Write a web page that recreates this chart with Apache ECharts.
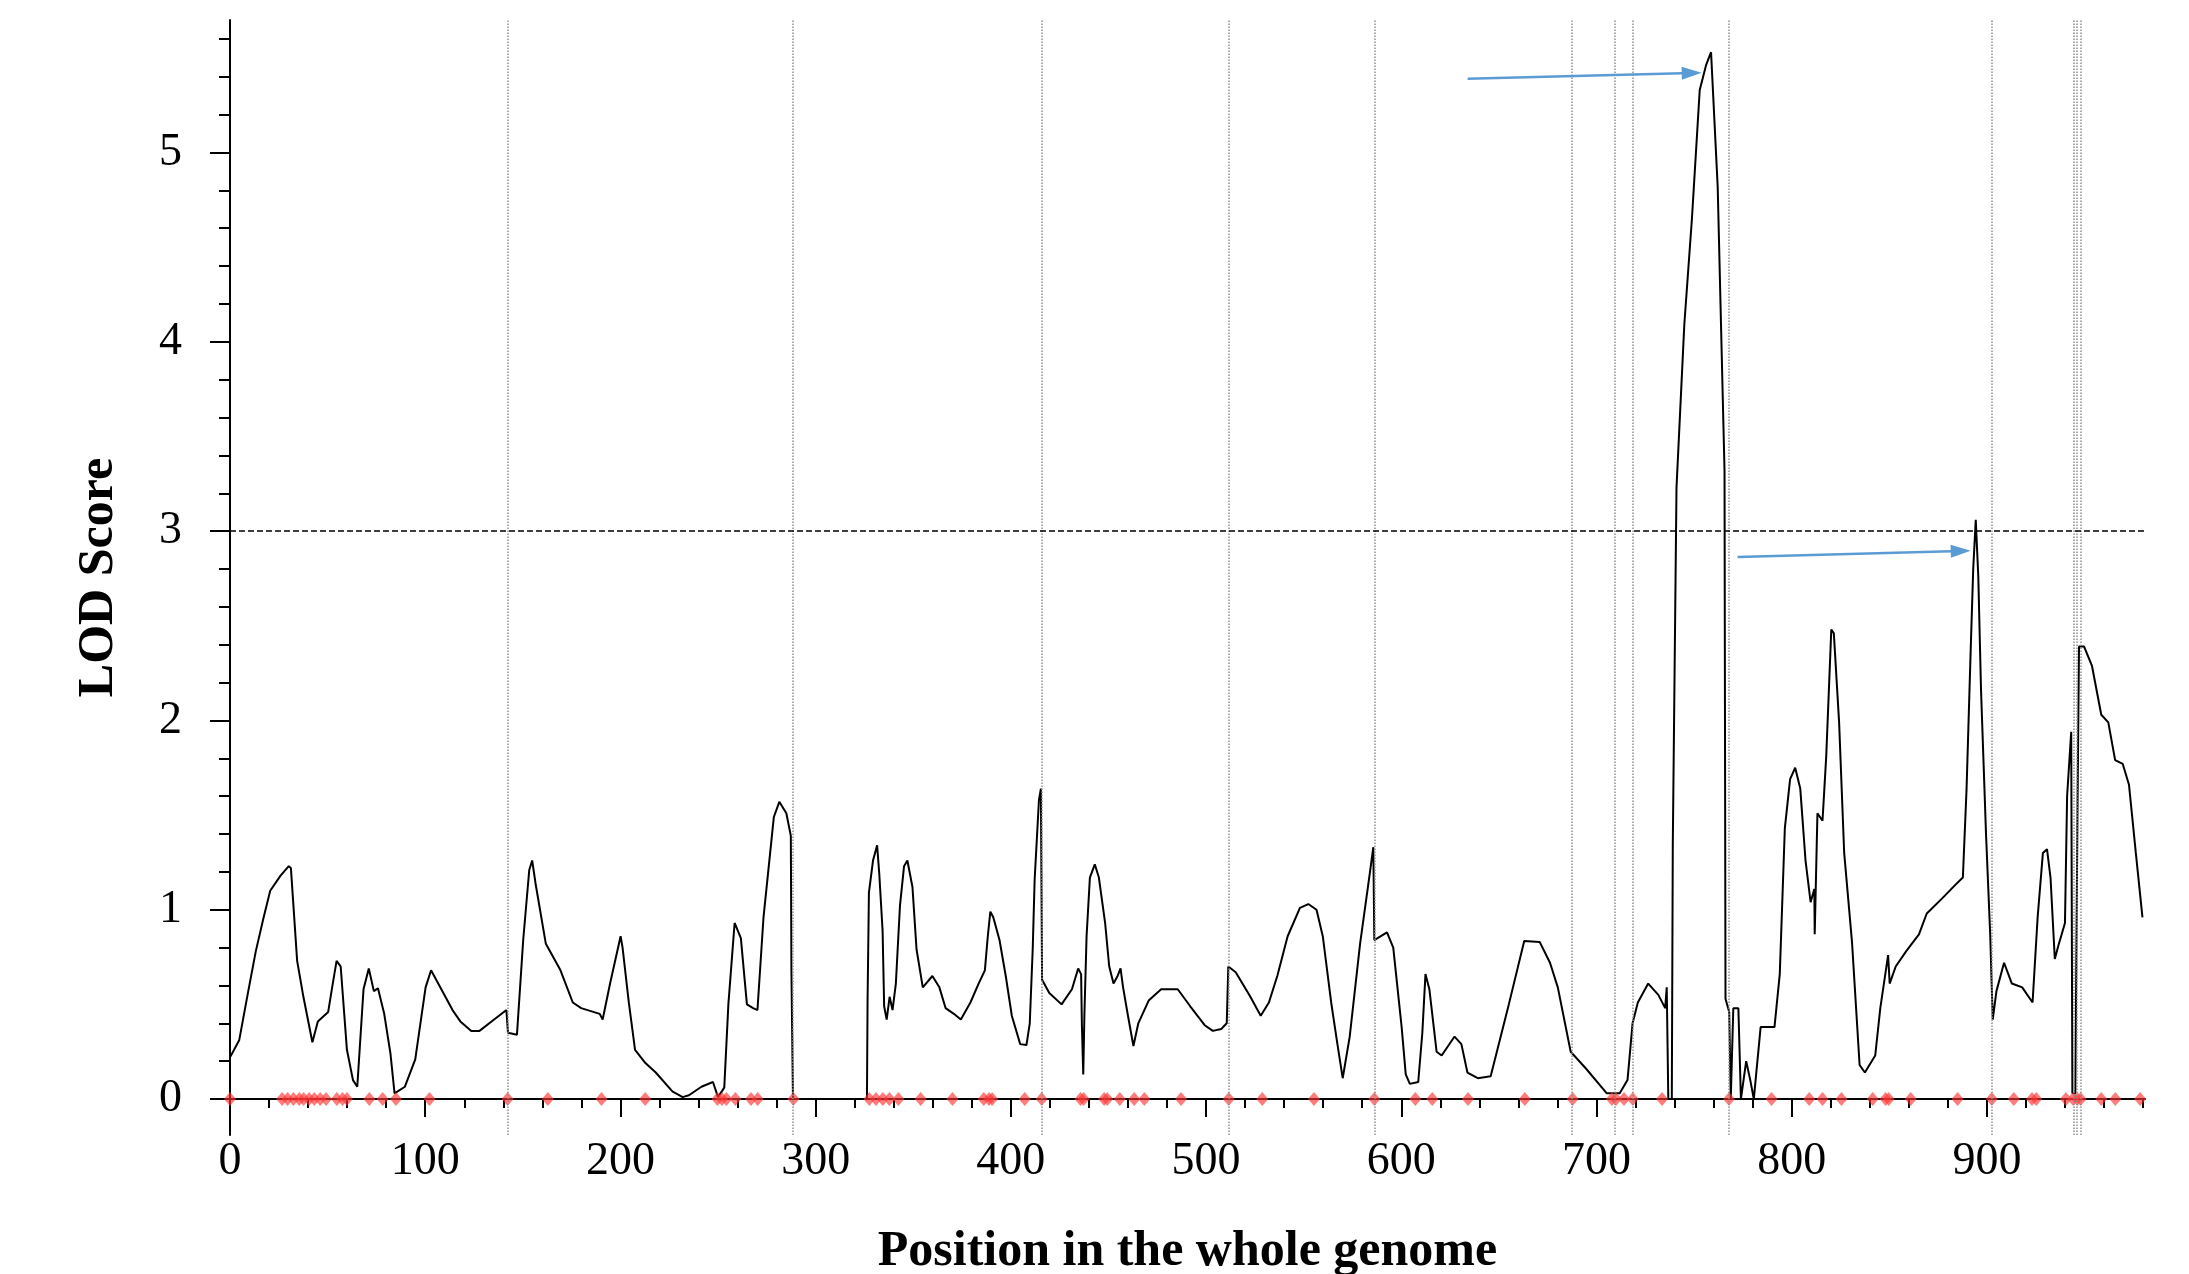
<!DOCTYPE html>
<html>
<head>
<meta charset="utf-8">
<title>LOD Score</title>
<script src="https://cdn.jsdelivr.net/npm/echarts@6.0.0/dist/echarts.min.js"></script>
<style>
  html, body { margin: 0; padding: 0; background: #fff; }
  #main { width: 2189px; height: 1274px; }
</style>
</head>
<body>
<div id="main"></div>
<script>
// LOD profile along the genome (position, LOD)
var lodPos = [0, 4.7, 9, 13.2, 17, 20.6, 25.9, 30.1, 31.2, 34.4, 37.6, 42.2, 45, 50.3, 52.5, 54.6, 56.7, 59.9, 63, 65.2,
  68.4, 71.1, 73.7, 75.8, 79, 82.2, 84.3, 89.6, 94.9, 100.2, 103, 107.7, 114, 118, 123.6, 127.8, 135.3, 141.6, 142.4, 147,
  150.2, 153.3, 154.8, 156.5, 161.8, 169.3, 175.6, 179.9, 189.4, 190.9, 194.7, 200.1, 201.1, 204.3, 207.5, 212.8, 218.1, 226.6, 231.9, 235.1,
  241.5, 247.4, 250, 253.2, 255.3, 258.5, 261.7, 264.8, 268, 270.2, 273.3, 278.6, 281.4, 285, 287.3, 287.6, 288.4, 326.3, 326.6, 327.3,
  329.4, 331.5, 332.6, 334.3, 335.1, 336.4, 337.9, 339.4, 341.1, 343.2, 345.3, 347, 349.6, 351.7, 354.9, 359.8, 363.4, 366.6, 370.8, 374.4,
  379.3, 383.5, 386.7, 388.2, 389.5, 391, 394.2, 397.4, 400.5, 404.8, 408, 409.7, 411.2, 412.2, 414.4, 415.4, 416, 419.7, 426, 431.3,
  434.5, 436, 436.4, 437.1, 437.7, 438.8, 440.5, 443, 445.1, 448.3, 450.4, 452.6, 454.7, 456.2, 457.5, 460, 462.8, 465.3, 470.6, 477,
  485.5, 491.9, 499.3, 503.5, 507.8, 510.6, 511.4, 515.2, 522.7, 528, 532.2, 536.5, 541.8, 548.1, 552.4, 556.6, 559.8, 564.1, 567.3, 570,
  573.6, 578.9, 583.2, 585.7, 586.2, 592.7, 595.9, 600.2, 602.3, 604.4, 608.7, 610.8, 612.4, 614.4, 618.1, 620.7, 627.3, 630.8, 633.9, 639.2,
  645.8, 655.1, 663, 670.9, 676.2, 680.2, 686.8, 694.7, 705.3, 711.9, 715.9, 718.5, 721.2, 726.5, 731.7, 735.2, 736, 736.8, 738.6, 739.1,
  741, 745, 748.9, 752.9, 756.1, 758.7, 762.1, 765.6, 766.1, 768, 768.8, 770.1, 772.7, 774, 776.7, 778.8, 780.6, 784.1, 791.2, 793.9,
  796.5, 799.2, 801.8, 804.4, 807.1, 809.7, 811.6, 811.8, 813.2, 815.8, 817.7, 820.3, 821.6, 824.3, 826.9, 830.9, 834.8, 837.5, 842.8, 845.4,
  849.4, 850.2, 853.3, 858.6, 865.2, 869.2, 877.1, 883.7, 887.7, 889.6, 891.7, 893, 894.3, 895.6, 897, 899.6, 901.7, 903, 904.9, 908.8,
  912.8, 918.1, 923.4, 926, 928.7, 930.8, 932.6, 934.8, 936.6, 940, 941.1, 943.2, 943.8, 945.3, 946.4, 947.2, 949.8, 953.8, 958.6, 962.2,
  965.7, 969.6, 972.8, 976.3, 979.7];
var lodVal = [0.22, 0.31, 0.55, 0.78, 0.95, 1.10, 1.18, 1.23, 1.22, 0.73, 0.54, 0.30, 0.41, 0.46, 0.6, 0.73, 0.70, 0.26, 0.1, 0.065,
  0.58, 0.69, 0.57, 0.585, 0.45, 0.24, 0.03, 0.065, 0.21, 0.59, 0.68, 0.59, 0.47, 0.41, 0.36, 0.36, 0.42, 0.47, 0.35, 0.34,
  0.84, 1.21, 1.26, 1.14, 0.82, 0.68, 0.51, 0.48, 0.45, 0.42, 0.61, 0.86, 0.80, 0.51, 0.26, 0.19, 0.14, 0.04, 0.01, 0.02,
  0.065, 0.09, 0.01, 0.06, 0.50, 0.93, 0.85, 0.50, 0.48, 0.47, 0.96, 1.49, 1.57, 1.51, 1.39, 0.68, 0, 0, 0.51, 1.09,
  1.26, 1.34, 1.19, 0.89, 0.49, 0.42, 0.54, 0.47, 0.61, 1.02, 1.23, 1.26, 1.12, 0.79, 0.59, 0.65, 0.59, 0.48, 0.45, 0.42,
  0.51, 0.61, 0.68, 0.86, 0.99, 0.96, 0.84, 0.65, 0.44, 0.29, 0.285, 0.40, 0.79, 1.16, 1.58, 1.64, 0.63, 0.56, 0.50, 0.58,
  0.69, 0.66, 0.39, 0.13, 0.45, 0.86, 1.17, 1.24, 1.17, 0.93, 0.70, 0.61, 0.65, 0.69, 0.59, 0.44, 0.28, 0.40, 0.52, 0.58,
  0.58, 0.49, 0.39, 0.36, 0.37, 0.40, 0.70, 0.67, 0.54, 0.44, 0.51, 0.65, 0.86, 1.01, 1.03, 1.00, 0.86, 0.51, 0.29, 0.11,
  0.33, 0.82, 1.14, 1.33, 0.84, 0.88, 0.80, 0.38, 0.13, 0.08, 0.09, 0.35, 0.66, 0.58, 0.25, 0.23, 0.33, 0.29, 0.14, 0.11,
  0.12, 0.50, 0.835, 0.83, 0.72, 0.59, 0.25, 0.16, 0.03, 0.03, 0.10, 0.40, 0.51, 0.61, 0.55, 0.48, 0.59, 0, 0, 1.34,
  3.23, 4.09, 4.65, 5.33, 5.46, 5.53, 4.82, 3.32, 0.53, 0.46, 0, 0.48, 0.48, 0, 0.20, 0.10, 0, 0.38, 0.38, 0.66,
  1.43, 1.69, 1.75, 1.64, 1.26, 1.04, 1.11, 0.87, 1.51, 1.47, 1.81, 2.48, 2.46, 1.99, 1.30, 0.83, 0.18, 0.14, 0.23, 0.48,
  0.76, 0.61, 0.70, 0.78, 0.87, 0.98, 1.06, 1.13, 1.17, 1.64, 2.37, 2.80, 3.06, 2.76, 2.16, 1.39, 0.87, 0.42, 0.57, 0.72,
  0.61, 0.59, 0.51, 0.96, 1.30, 1.32, 1.17, 0.74, 0.81, 0.93, 1.60, 1.94, 0.03, 0.03, 1.51, 2.39, 2.39, 2.29, 2.03, 1.99,
  1.79, 1.77, 1.66, 1.30, 0.96];

// marker positions (red diamonds on the axis)
var markerPos = [0, 26.7, 29.5, 32.5, 35.5, 37.7, 40.5, 43.2, 46.2, 49.2, 54.7, 57.6, 59.9, 71.4, 78.2, 85.0, 102.2, 142.2, 162.8, 190.3,
  212.7, 249.7, 252.0, 254.3, 258.9, 266.9, 270.3, 288.6, 327.5, 330.9, 334.4, 337.8, 342.4, 353.8, 370.1, 386.1, 388.8, 390.4, 407.1, 415.8,
  435.7, 437.3, 447.8, 449.4, 455.8, 463.2, 468.4, 487.2, 511.6, 528.8, 555.3, 586.2, 607.2, 615.9, 634.2, 663.3, 687.8, 707.9, 710.0, 714.1,
  718.6, 733.6, 767.9, 789.7, 809.0, 815.8, 825.5, 841.5, 848.1, 849.7, 861.0, 885.0, 902.5, 913.8, 923.1, 925.3, 940.5, 944.2, 946.3, 948.0,
  958.6, 965.8, 978.5];

// chromosome boundaries (dotted vertical lines)
var chromBounds = [142.2, 288.4, 415.8, 511.4, 586.3, 687.5, 709.5, 718.5, 767.9, 902.3, 944.3, 946.2, 947.9];

var threshold = 3;
var xMajor = [0, 100, 200, 300, 400, 500, 600, 700, 800, 900];
var yMajor = [0, 1, 2, 3, 4, 5];

// arrows pointing at the two peaks: [fromX, fromY, toX, toY]
var arrowA = [634, 5.39, 748.8, 5.42];
var arrowB = [772.3, 2.863, 886.6, 2.895];

var xMinor = [];
for (var i = 20; i <= 980; i += 20) { if (i % 100 !== 0) xMinor.push(i); }
var yMinor = [];
for (var j = 1; j <= 28; j++) { if (j % 5 !== 0) yMinor.push(+(j * 0.2).toFixed(1)); }

var curve = lodPos.map(function (p, k) { return [p, lodVal[k]]; });
var markers = markerPos.map(function (p) { return [p, 0]; });

var serif = '"Liberation Serif", "Times New Roman", serif';
var axisColor = '#000';
var arrowColor = '#5b9bd5';

function arrow(a) {
  return [
    { coord: [a[0], a[1]], symbol: 'none' },
    { coord: [a[2], a[3]], symbol: 'triangle', symbolSize: [13, 20],
      lineStyle: { color: arrowColor, type: 'solid', width: 2.5 }, itemStyle: { color: arrowColor } }
  ];
}

var chart = echarts.init(document.getElementById('main'), null, { renderer: 'canvas' });

chart.setOption({
  animation: false,
  backgroundColor: '#fff',
  grid: { left: 230, right: 44, top: 20, bottom: 139, outerBoundsMode: 'none', containLabel: false },
  xAxis: [{
    type: 'value', min: 0, max: 981, position: 'bottom',
    axisLine: { onZero: true, onZeroAxisIndex: 0, lineStyle: { color: axisColor, width: 2 } },
    axisTick: { customValues: xMajor, length: 18, lineStyle: { color: axisColor, width: 2 } },
    axisLabel: { customValues: xMajor, margin: 4, color: '#000', fontFamily: serif, fontSize: 46 },
    splitLine: { show: false },
    name: 'Position in the whole genome', nameLocation: 'middle', nameGap: 92,
    nameTextStyle: { color: '#000', fontFamily: serif, fontWeight: 'bold', fontSize: 50 }
  }, {
    type: 'value', min: 0, max: 981, position: 'bottom',
    axisLine: { show: true, onZero: true, onZeroAxisIndex: 0, lineStyle: { opacity: 0 } },
    axisTick: { customValues: xMinor, length: 9, lineStyle: { color: axisColor, width: 2 } },
    axisLabel: { show: false },
    splitLine: { show: false }
  }],
  yAxis: [{
    type: 'value', min: -0.19, max: 5.7, position: 'left',
    axisLine: { show: true, onZero: true, onZeroAxisIndex: 0, lineStyle: { color: axisColor, width: 2 } },
    axisTick: { customValues: yMajor, length: 20, lineStyle: { color: axisColor, width: 2 } },
    axisLabel: { customValues: yMajor, margin: 48, color: '#000', fontFamily: serif, fontSize: 46 },
    splitLine: { show: false },
    name: 'LOD Score', nameLocation: 'middle', nameGap: 106, nameRotate: 90,
    nameTextStyle: { color: '#000', fontFamily: serif, fontWeight: 'bold', fontSize: 50 }
  }, {
    type: 'value', min: -0.19, max: 5.7, position: 'left',
    axisLine: { show: true, onZero: true, onZeroAxisIndex: 0, lineStyle: { opacity: 0 } },
    axisTick: { customValues: yMinor, length: 11, lineStyle: { color: axisColor, width: 2 } },
    axisLabel: { show: false },
    splitLine: { show: false }
  }],
  series: [{
    // guide lines: chromosome borders, threshold and arrows
    type: 'line', data: [], silent: true,
    markLine: {
      silent: true, animation: false, symbol: 'none', label: { show: false },
      data: chromBounds.map(function (b) {
        return { xAxis: b, lineStyle: { color: '#8f8f8f', type: 'dotted', width: 1.5 } };
      }).concat([
        { yAxis: threshold, lineStyle: { color: '#000', type: 'dashed', width: 1.5 } },
        arrow(arrowA),
        arrow(arrowB)
      ])
    }
  }, {
    name: 'LOD', type: 'line', data: curve, showSymbol: false, smooth: false,
    lineStyle: { color: '#000', width: 2 }, z: 3
  }, {
    name: 'markers', type: 'scatter', data: markers, symbol: 'diamond', symbolSize: [12, 14],
    itemStyle: { color: 'rgba(255, 50, 50, 0.8)' }, z: 4
  }]
});
</script>
</body>
</html>
